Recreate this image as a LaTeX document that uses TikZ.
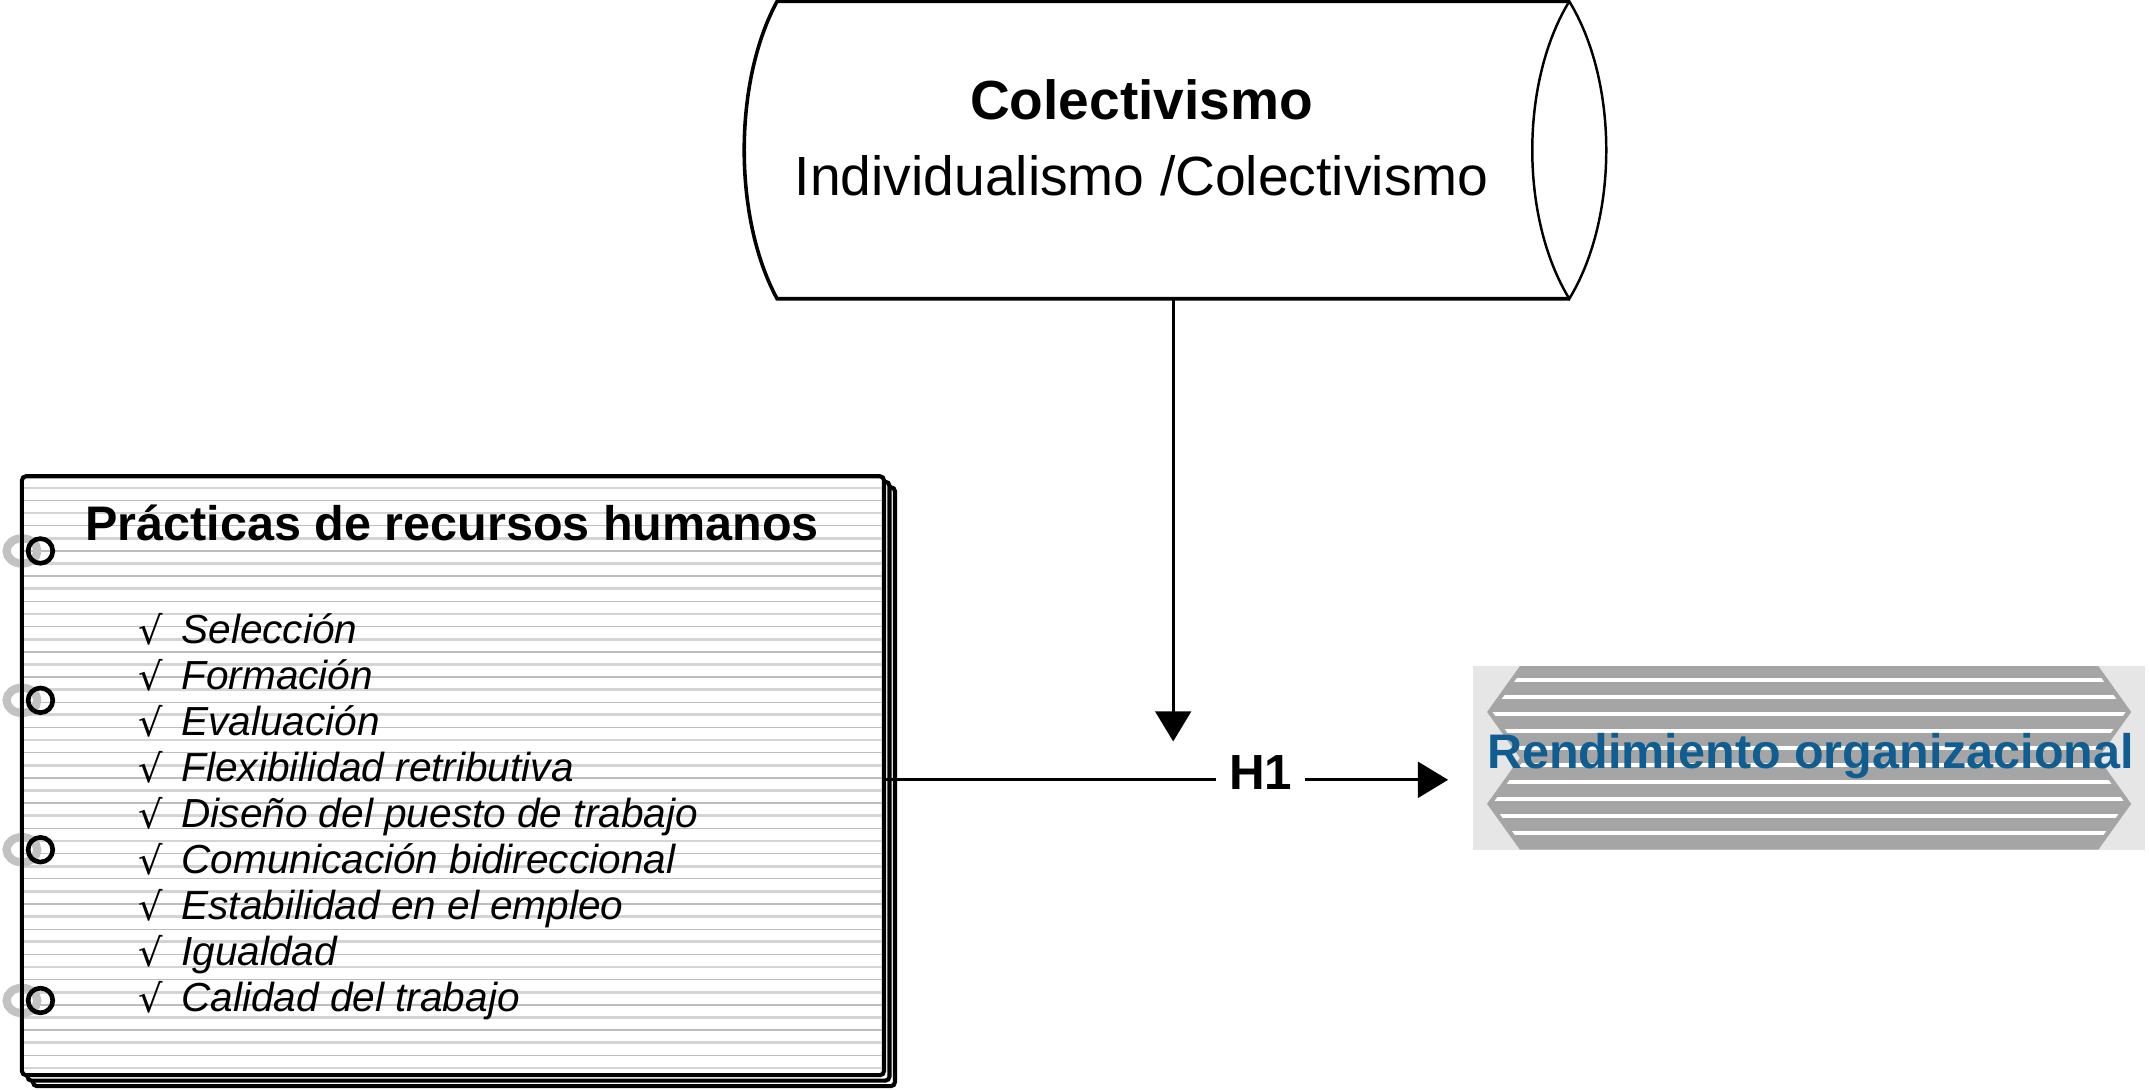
\documentclass[tikz,border=0pt]{standalone}
\usepackage{fontspec}
\setmainfont{Liberation Sans}
\newfontfamily\radfont{DejaVu Serif}
\usetikzlibrary{arrows.meta}
\definecolor{rendblue}{HTML}{105E91}
\definecolor{stripegray}{HTML}{A5A5A5}
\definecolor{boxbg}{HTML}{E6E6E6}
\definecolor{ringgray}{HTML}{C2C2C2}
\definecolor{ruleA}{HTML}{D4D4D4}
\definecolor{ruleB}{HTML}{BDBDBD}
\begin{document}
\begin{tikzpicture}[x=0.5pt,y=-0.5pt,
  conn/.style={line width=1.2pt, draw=black},
  tipa/.style={-{Triangle[length=11pt,width=13pt]}},
  page/.style={draw=black, fill=white, line width=1.5pt, rounded corners=1.5pt},
  rulea/.style={draw=ruleA, line width=1pt},
  ruleb/.style={draw=ruleB, line width=0.5pt},
  item/.style={font=\itshape\fontsize{14.8}{16}\selectfont, inner sep=0, anchor=base west},
  chk/.style={font=\radfont\fontsize{14}{15}\selectfont, inner sep=0, anchor=base west},
]
\useasboundingbox (0,0) rectangle (1568,795);
\fill[white] (0,0) rectangle (1568,795);

% ---------- cylinder ----------
\node[minimum width=289pt, minimum height=108.5pt, inner sep=0] (cyl) at (856,109.5) {};
\draw[line width=1.3pt, line join=miter] (1145,1) -- (567,1)
  .. controls (535,60) and (535,159) .. (567,218) -- (1145,218);
\draw[line width=0.9pt, line join=miter] (1145,1)
  .. controls (1181,60) and (1181,159) .. (1145,218)
  .. controls (1109,159) and (1109,60) .. cycle;
\node[font=\bfseries\fontsize{20.1}{24}\selectfont, anchor=base, inner sep=0] (t1) at (833,87) {Colectivismo};
\node[font=\fontsize{20.15}{24}\selectfont, anchor=base, inner sep=0] (t2) at (833,143) {Individualismo /Colectivismo};

% ---------- notebook ----------
\draw[page] (24,355.5) rectangle (653,792.5);
\draw[page] (20,351.5) rectangle (649,788.5);
\node[page, minimum width=314.5pt, minimum height=218.5pt, inner sep=0] (nb) at (330.5,566) {};
\foreach \yy in {356,374.4,...,781} \draw[rulea] (17.5,\yy) -- (643.5,\yy);
\foreach \yy in {365.2,383.6,...,781} \draw[ruleb] (17.5,\yy) -- (643.5,\yy);
\foreach \ry in {402,511,620,730}
  \draw[ringgray, line width=3pt] (16,\ry) ellipse[x radius=5.6pt, y radius=4.6pt];
\draw[line width=1.5pt] (16,352) -- (16,780);
\foreach \ry in {402,511,620,730}
  \draw[black, line width=1.7pt] (29.5,\ry) circle[radius=4.5pt];
\node[font=\bfseries\fontsize{17.7}{20}\selectfont, anchor=base west, inner sep=0] (title) at (62,394.5) {Prácticas de recursos humanos};
\foreach \t [count=\i] in {Selección,Formación,Evaluación,Flexibilidad retributiva,Diseño del puesto de trabajo,Comunicación bidireccional,Estabilidad en el empleo,Igualdad,Calidad del trabajo}{
  \node[chk] (ck\i) at (101,{470.5+33.55*(\i-1)}) {√};
  \node[item] (it\i) at (132,{469.5+33.55*(\i-1)}) {\t};
}

% ---------- rendimiento box ----------
\node[fill=boxbg, minimum width=245pt, minimum height=67pt, inner sep=0] (rend) at (1320,553) {};
\fill[stripegray] (1109,486) -- (1531,486) -- (1555,519.5) -- (1531,553) -- (1109,553) -- (1085,519.5) -- cycle;
\fill[stripegray] (1109,553) -- (1531,553) -- (1555,586.5) -- (1531,620) -- (1109,620) -- (1085,586.5) -- cycle;
\begin{scope}
  \clip (1113,486) -- (1527,486) -- (1551,519.5) -- (1527,553) -- (1551,586.5) -- (1527,620)
        -- (1113,620) -- (1089,586.5) -- (1113,553) -- (1089,519.5) -- cycle;
  \foreach \k in {0,...,9} \draw[white, line width=1.6pt] (1080,{496+12.4*\k}) -- (1560,{496+12.4*\k});
\end{scope}
\node[font=\bfseries\fontsize{17.7}{20}\selectfont, text=rendblue, anchor=base, inner sep=0] (rendtxt) at (1321,561) {Rendimiento organizacional};

% ---------- connectors ----------
\coordinate (hy) at (0,569);
\coordinate (tip) at (856,541);
\node[font=\bfseries\fontsize{18}{20}\selectfont, anchor=base, inner xsep=4.5pt, inner ysep=0] (h1) at (920,576) {H1};
\draw[conn, tipa] (cyl.south) -- (tip);
\draw[conn] (nb.east |- hy) -- (h1.west |- hy);
\draw[conn, tipa, shorten >=9pt] (h1.east |- hy) -- (rend.west |- hy);
\end{tikzpicture}
\end{document}
